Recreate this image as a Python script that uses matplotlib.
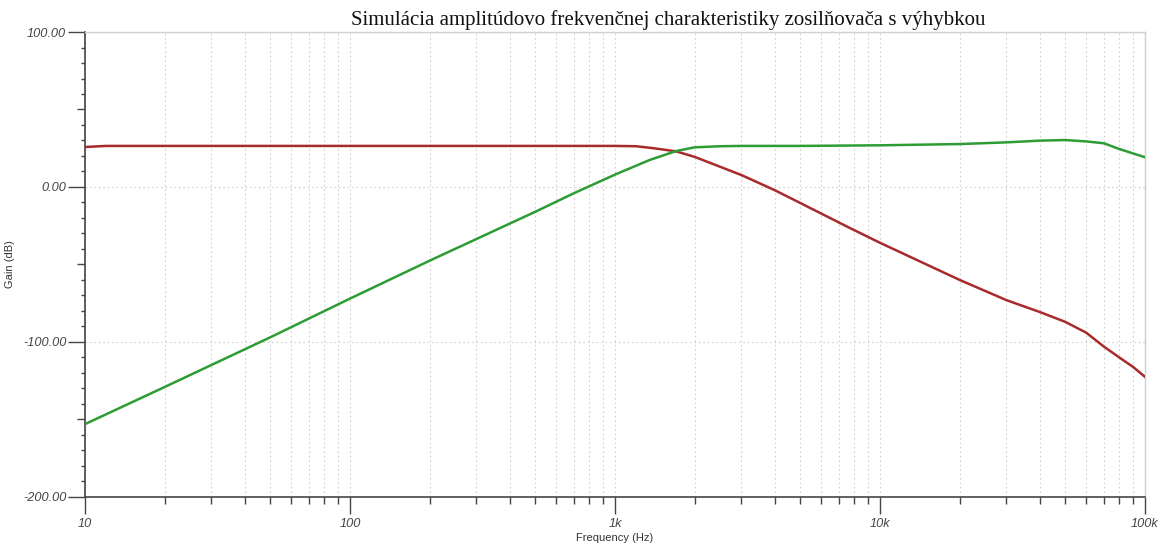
import numpy as np
import matplotlib.pyplot as plt
from matplotlib.ticker import FixedLocator, NullFormatter

# frequency points (Hz)
freq_lp = [10, 12, 100, 500, 1000, 1200, 1400, 1700, 2000, 3000, 4000, 5000,
           7600, 10000, 20000, 30000, 40000, 50000, 60000, 70000, 80000,
           90000, 100000]
gain_lp = [25.8, 26.5, 26.5, 26.5, 26.5, 26.3, 25.0, 23.0, 19.4, 7.7, -2.0,
           -10.3, -26.0, -36.0, -60.0, -73.0, -80.6, -87.0, -94.0, -103.0,
           -110.0, -116.0, -122.5]

freq_hp = [10, 20, 50, 100, 200, 500, 700, 1000, 1350, 1700, 2000, 2500,
           3000, 5000, 10000, 20000, 30000, 40000, 50000, 60000, 70000,
           80000, 90000, 100000]
gain_hp = [-153.0, -129.0, -97.0, -72.0, -47.5, -16.0, -4.0, 8.0, 17.4,
           23.2, 25.6, 26.3, 26.5, 26.5, 26.9, 27.7, 28.8, 29.9, 30.3, 29.4,
           28.2, 24.5, 21.7, 19.2]

y_major = [100, 0, -100, -200]
y_major_labels = ["100.00", "0.00", "-100.00", "-200.00"]
x_major = [10, 100, 1000, 10000, 100000]
x_major_labels = ["10", "100", "1k", "10k", "100k"]

title = "Simulácia amplitúdovo frekvenčnej charakteristiky zosilňovača s výhybkou"

plt.rcParams['font.family'] = ['Liberation Sans', 'DejaVu Sans']

fig = plt.figure(figsize=(11.66, 5.48), dpi=100)
ax = fig.add_axes([0.0729, 0.0931, 0.9091, 0.8485])

ax.plot(freq_lp, gain_lp, color="#a82a2a", lw=1.8, zorder=3)
ax.plot(freq_hp, gain_hp, color="#2e9c34", lw=1.8, zorder=3)

ax.set_xscale("log")
ax.set_xlim(10, 100000)
ax.set_ylim(-200, 100)

ax.set_xticks(x_major)
ax.set_xticklabels(x_major_labels)
x_minor = [m * d for d in [10, 100, 1000, 10000] for m in range(2, 10)]
ax.xaxis.set_minor_locator(FixedLocator(x_minor))
ax.xaxis.set_minor_formatter(NullFormatter())

ax.set_yticks(y_major)
ax.set_yticklabels(y_major_labels)
ax.yaxis.set_minor_locator(FixedLocator([v for v in range(-190, 100, 10) if v % 50 != 0]))

grid_kw = dict(color="#d0d0d0", ls=(0, (1.5, 2.5)), lw=0.8)
ax.grid(True, axis="x", which="both", **grid_kw)
ax.grid(True, axis="y", which="major", **grid_kw)

ax.tick_params(axis="both", which="major", direction="out", length=12, width=1.0,
               color="#444444", labelcolor="#444444", labelsize=9.2)
ax.tick_params(axis="x", which="minor", direction="out", length=5, width=1.0, color="#444444")
ax.tick_params(axis="y", which="minor", direction="out", length=3, width=1.0, color="#444444")
ax.tick_params(axis="x", which="major", pad=3)
ax.tick_params(axis="y", which="major", pad=1.5)
for lab in ax.get_xticklabels() + ax.get_yticklabels():
    lab.set_fontstyle("italic")

# mid-length ticks at the 50 dB marks
sec = ax.secondary_yaxis("left")
sec.set_yticks([50, -50, -150])
sec.yaxis.set_major_formatter(NullFormatter())
sec.tick_params(length=6, width=1.0, color="#444444")
sec.spines["left"].set_visible(False)

for s in ["left", "bottom"]:
    ax.spines[s].set_color("#444444")
    ax.spines[s].set_linewidth(1.2)
for s in ["top", "right"]:
    ax.spines[s].set_color("#cfcfcf")
    ax.spines[s].set_linewidth(1.0)

ax.set_xlabel("Frequency (Hz)", fontsize=8, color="#333333", labelpad=2)
ax.set_ylabel("Gain (dB)", fontsize=8, color="#333333")
ax.yaxis.set_label_coords(-0.066, 0.5)

fig.text(0.573, 0.963, title, ha="center", va="center",
         fontsize=15, family="Liberation Serif", color="#111111")

fig.savefig("out.png", dpi=100)
